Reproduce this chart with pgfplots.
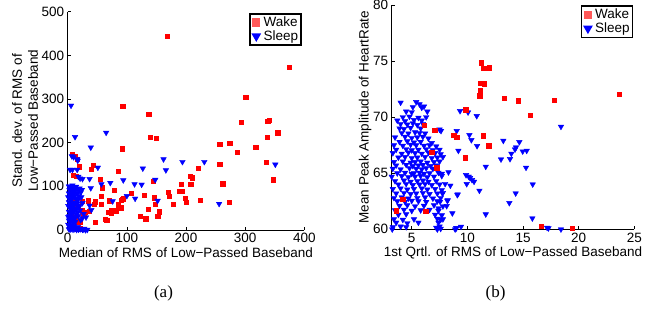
\documentclass[border=0pt]{standalone}
\usepackage{pgfplots}
\pgfplotsset{compat=1.18}
\usepackage{fontspec}
\setmainfont{Liberation Sans}
\newfontfamily\seriffont{Liberation Serif}
\newcommand{\tfont}{\fontsize{13.5bp}{16bp}\selectfont}
\pgfplotsset{
  mystyle/.style={
    scale only axis,
    axis lines=left,
    axis line style={line width=0.8bp,-},
    tick align=inside,
    major tick length=3.5bp,
    tick style={line width=0.6bp, black},
    tick label style={font=\tfont},
    /pgf/number format/assume math mode=true,
    clip=false,
    legend style={draw=black, line width=1.3bp, font=\tfont, inner xsep=2.5bp, inner ysep=2.5bp, row sep=1.5bp,
      nodes={inner sep=0.5bp}, column sep=3bp, legend cell align=left, fill=white},
    legend image code/.code={\draw[mark repeat=2,mark phase=2,#1] plot coordinates {(0bp,0bp) (5.5bp,0bp) (11bp,0bp)};},
  },
  wake/.style={only marks, mark=square*, mark size=2.1bp, color=red, forget plot},
  sleep/.style={only marks, mark=triangle*, mark size=3.2bp, color=blue, every mark/.append style={rotate=180}, forget plot},
}
\begin{document}
\begin{tikzpicture}[x=1bp,y=1bp]
\useasboundingbox (0,0) rectangle (650,309);
% ---------------- (a) ----------------
\begin{axis}[mystyle,
  at={(67.7bp,79bp)}, anchor=south west,
  width=236.6bp, height=218.3bp,
  xmin=0, xmax=400, ymin=0, ymax=500,
  xtick={0,100,200,300,400}, ytick={0,100,200,300,400,500},
  xlabel={Median of RMS of Low−Passed Baseband},
  ylabel={Stand. dev. of RMS of\\Low−Passed Baseband},
  every axis y label/.style={at={(axis description cs:-0.18,0.5)}, rotate=90, anchor=center, align=center, font=\tfont},
  every axis x label/.style={at={(axis description cs:0.5,-0.105)}, anchor=center, font=\tfont},
  legend style={at={(axis description cs:0.989,0.993)}, anchor=north east},
]
\addlegendimage{only marks, mark=square*, mark size=3.5bp, color=red!65!white}
\addlegendimage{only marks, mark=triangle*, mark size=4.3bp, color=blue, every mark/.append style={rotate=180}}
\legend{Wake,Sleep}
\addplot[wake] coordinates {
(168,443) (375,372) (301,305) (93,284) (137,265) (293,247) (338,250) (341,252) (140,212) (149,211)
(355,223) (337,213) (92,186) (257,196) (274,199) (318,189) (286,178) (335,155) (257,151) (220,142)
(347,115) (262,106) (207,124) (211,120) (192,105) (208,105) (189,89) (193,88) (145,111) (224,69)
(199,73) (201,63) (273,64) (170,86) (171,77) (179,59) (129,79) (107,84) (93,71) (90,68) (90,51)
(146,74) (148,60) (155,42) (152,31) (136,48) (122,31) (132,26)
(7,174) (12,169) (16,162) (43,149) (40,140) (86,134) (9,125) (14,124) (20,145) (58,97) (55,116)
(79,92) (94,73) (57,78) (25,66) (34,67) (47,65) (56,60) (70,67) (86,58) (73,45) (81,44) (68,40)
(74,39) (66,22) (64,25) (47,17) (25,44) (30,41) (27,37) (21,18) (17,18) (15,29) (12,53) (9,56)
(9,92) (7,65) (15,61) (17,1) (24,2) (20,4) (5,84) (5,32) (10,27) (16,4) (21,3) (13,66) (37,43) (45,59)
};
\addplot[sleep] coordinates {
(5.6,285) (12.4,213) (65,223) (39,189) (7,169) (10,167) (16,162) (17,159) (4,138) (8,138) (16,138)
(18,122) (21,118) (25,117) (51,143) (37,117) (39,96) (57,105) (72,108) (94,114) (113,105) (125,104)
(127,141) (148,115) (166,137) (162,162) (194,156) (231,156) (351,150) (256,60) (114,72) (100,78)
(152,67) (76,66) (37,56) (27,37) (22,23) (40,46) (25,27) (31,29) (25,1) (30,0)
(2,100) (5,98) (8,102) (11,96) (14,99) (3,92) (7,90) (10,88) (13,91) (17,93) (20,95) (24,92)
(2,84) (6,82) (9,80) (12,85) (16,83) (19,78) (22,86)
(3,74) (5,70) (8,73) (11,76) (14,72) (18,70) (23,75)
(2,64) (4,60) (7,62) (10,58) (13,63) (16,60) (20,56) (25,62)
(3,52) (6,49) (9,54) (12,50) (15,47) (19,52) (21,45)
(2,42) (5,40) (8,38) (11,43) (14,36) (17,40)
(3,32) (6,28) (9,30) (12,26) (18,32)
(2,22) (4,18) (7,20) (10,15) (13,19)
(1,12) (3,8) (5,10) (8,6) (11,9) (14,5) (17,7) (20,3)
(2,2) (4,1) (6,3) (9,1) (12,2) (15,0.5) (18,1) (22,2) (26,1) (28,3) (33,0.5)
(1,55) (1,30) (1,75)
};
\end{axis}
% ---------------- (b) ----------------
\begin{axis}[mystyle,
  at={(391.7bp,79.7bp)}, anchor=south west,
  width=242.6bp, height=224.3bp,
  xmin=3.2, xmax=25, ymin=60, ymax=80,
  xtick={5,10,15,20,25}, ytick={60,65,70,75,80},
  xlabel={1st Qrtl. of RMS of Low−Passed Baseband},
  ylabel={Mean Peak Amplitude of HeartRate},
  every axis y label/.style={at={(axis description cs:-0.11,0.5)}, rotate=90, anchor=center, font=\tfont},
  every axis x label/.style={at={(axis description cs:0.5,-0.106)}, anchor=center, font=\tfont},
  legend style={at={(axis description cs:0.996,0.998)}, anchor=north east},
]
\addlegendimage{only marks, mark=square*, mark size=3.5bp, color=red!65!white}
\addlegendimage{only marks, mark=triangle*, mark size=4.3bp, color=blue, every mark/.append style={rotate=180}}
\legend{Wake,Sleep}
\addplot[sleep] coordinates {
(9.34,70.55) (10.06,70.43) (10.84,70.1) (9.04,68.77) (10.18,68.41) (10.36,67.96) (10.87,67.43) (9.19,67.01)
(11.65,65.59) (9.88,64.84) (10.12,64.7) (10.24,64.58) (10.42,64.4) (10.6,64.25) (9.94,64.04) (11.08,63.45)
(9.1,63.06) (8.65,61.43) (11.65,61.34) (9.01,60.12) (9.43,60.24) (13.23,67.9) (14.67,67.78) (13.02,66.24)
(13.95,66.75) (13.83,66.27) (14.37,67.31) (14.28,67.13) (14.97,66.95) (15.33,67.01) (15.27,65.5) (15.87,64.01)
(14.34,63.21) (13.77,62.35) (15.84,60.98) (17.16,60.15) (17.28,60.09) (18.41,60.0) (18.41,69.15)
(7.63,68.78) (7.7,64.76) (8.3,65.09) (8.47,63.9) (9.13,63.12) (7.76,63.2) (7.55,62.47) (8.23,62.59) (8.14,62.08)
(7.4,61.87)
(4.0,71.3) (5.4,71.35) (5.7,71.15)
(5.1,70.9) (5.9,70.85) (6.1,70.95)
(4.5,70.5) (5.0,70.45) (6.4,70.5)
(4.2,70.0) (4.8,70.05) (5.6,69.95) (6.3,70.0)
(3.7,69.7) (4.4,69.65) (5.2,69.75) (5.9,69.7)
(4.0,69.4) (4.6,69.35) (5.1,69.45) (5.5,69.3) (6.0,69.4)
(3.9,69.0) (4.3,68.95) (4.9,69.05) (5.8,69.0) (7.5,68.9)
(4.1,68.6) (4.7,68.55) (5.3,68.65) (5.7,68.6) (6.2,68.55)
(3.5,68.2) (4.4,68.25) (5.0,68.15) (5.5,68.2) (6.0,68.25) (6.5,68.1)
(3.9,67.8) (4.6,67.85) (5.2,67.75) (5.8,67.8) (6.8,67.7)
(3.4,67.5) (4.2,67.45) (4.9,67.55) (5.4,67.5) (6.1,67.45) (6.6,67.5) (7.2,67.4)
(3.6,67.1) (4.5,67.15) (5.0,67.05) (5.6,67.1) (6.3,67.15) (6.9,67.05) (7.5,67.1)
(3.3,66.8) (4.1,66.75) (4.7,66.85) (5.3,66.8) (5.9,66.75) (6.5,66.85) (7.1,66.8) (7.6,66.7)
(3.8,66.4) (4.4,66.45) (5.0,66.35) (5.5,66.4) (6.2,66.45) (6.8,66.35) (7.3,66.4) (7.8,66.45)
(3.4,66.0) (4.2,66.05) (4.9,65.95) (5.3,66.0) (5.8,66.05) (6.4,65.95) (7.0,66.0) (7.5,66.05)
(3.6,65.7) (4.5,65.75) (5.1,65.65) (5.6,65.7) (6.0,65.75) (6.7,65.65) (7.2,65.7)
(3.3,65.4) (4.0,65.35) (4.8,65.45) (5.4,65.4) (5.9,65.35) (6.3,65.45) (6.9,65.4)
(3.7,65.0) (4.4,65.05) (5.0,64.95) (5.2,65.0) (5.7,65.05) (6.1,64.95) (6.6,65.0) (7.4,65.05) (7.7,64.95)
(3.2,64.7) (4.1,64.75) (4.7,64.65) (5.3,64.7) (5.8,64.75) (6.4,64.65) (7.0,64.7)
(3.5,64.3) (4.3,64.35) (4.9,64.25) (5.5,64.3) (6.0,64.35) (6.5,64.25) (7.2,64.3)
(3.8,64.0) (4.5,64.05) (5.1,63.95) (5.7,64.0) (6.2,64.05) (6.8,63.95) (7.5,64.0) (8.0,64.05)
(3.3,63.6) (4.0,63.65) (4.6,63.55) (5.2,63.6) (5.9,63.65) (6.4,63.55) (7.1,63.6) (7.7,63.5)
(3.6,63.2) (4.3,63.25) (4.9,63.15) (5.4,63.2) (6.0,63.25) (6.6,63.15) (7.3,63.2) (7.8,63.25)
(3.4,62.8) (4.1,62.85) (4.7,62.75) (5.5,62.8) (6.2,62.85) (6.9,62.75) (7.6,62.8)
(3.7,62.5) (4.4,62.45) (5.0,62.55) (5.6,62.5) (6.3,62.45) (7.3,62.5) (8.2,62.55)
(3.9,62.1) (4.6,62.15) (5.3,62.05) (6.1,62.1) (7.0,62.15) (7.8,62.05)
(3.5,61.7) (4.3,61.75) (5.0,61.65) (5.8,61.7) (6.6,61.75) (7.4,61.65)
(3.8,61.3) (4.5,61.35) (7.1,61.3) (7.7,61.25)
(3.4,60.9) (4.2,60.85) (5.2,60.9) (7.3,60.95) (7.6,60.85) (7.8,60.9)
(3.6,60.6) (4.6,60.55) (5.6,60.6) (7.4,60.6)
(3.3,60.2) (4.0,60.25) (4.5,60.2) (7.2,60.15) (7.5,60.25) (9.0,60.1)
(3.25,60.0) (7.3,60.0) (7.6,60.05) (8.9,60.0)
};
\addplot[wake] coordinates {
(11.23,74.86) (11.47,74.36) (11.95,74.41) (11.17,73.0) (11.5,72.99) (11.17,72.36) (11.1,71.92) (13.32,71.71)
(14.58,71.47) (17.78,71.53) (23.62,72.04) (15.66,70.16) (9.85,70.67) (6.1,69.3) (7.07,68.87) (8.77,68.4)
(9.04,68.2) (11.4,68.35) (11.92,67.46) (9.8,66.38) (7.25,65.5) (6.8,66.9) (4.18,62.7) (3.58,61.66)
(6.2,61.58) (6.3,61.6) (16.6,60.27) (19.43,60.12)
};
\end{axis}
\node[font=\seriffont\fontsize{17bp}{20bp}\selectfont] at (163.5,16) {(a)};
\node[font=\seriffont\fontsize{17bp}{20bp}\selectfont] at (495.5,16) {(b)};
\end{tikzpicture}
\end{document}
